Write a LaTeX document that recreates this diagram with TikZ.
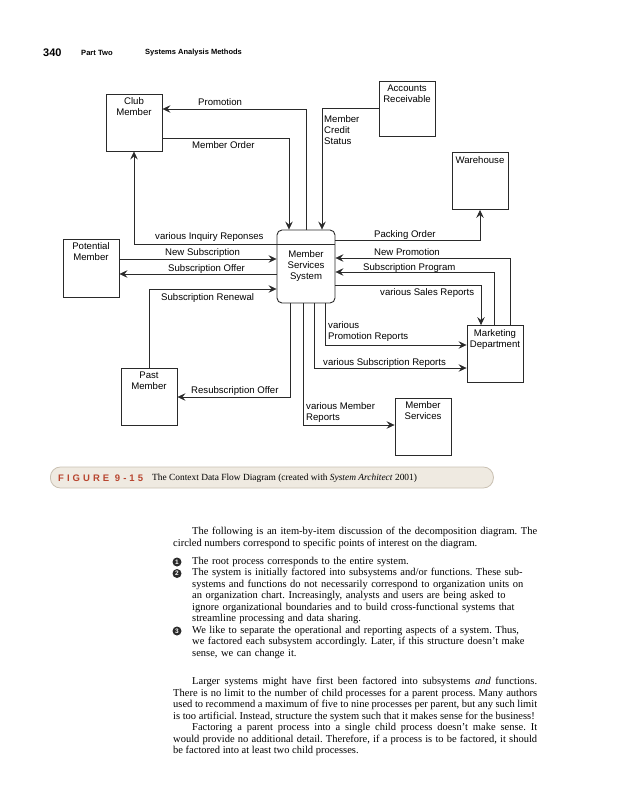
\documentclass[tikz,border=0pt]{standalone}
\usepackage{fontspec}
\setmainfont{Liberation Serif}
\newfontfamily\diagfont{Liberation Sans}
\usetikzlibrary{arrows.meta}
\definecolor{Ink}{HTML}{2A2A2A}
\definecolor{CapFill}{HTML}{EFEAE1}
\definecolor{CapRule}{HTML}{C9C0B2}
\definecolor{CapRed}{HTML}{B8452F}
\frenchspacing
\begin{document}
\begin{tikzpicture}[
  x=1pt,y=-1pt,>={Stealth[length=8pt,width=7.5pt,inset=3pt]},
  every node/.style={font=\diagfont\fontsize{9.6}{11}\selectfont},
  entity/.style={draw=Ink,line width=0.9pt,minimum width=56pt,minimum height=57pt,inner sep=0pt},
  process/.style={draw=Ink,line width=0.9pt,rounded corners=5pt,minimum width=58pt,minimum height=73pt,inner sep=0pt,align=center},
  flow/.style={->,draw=Ink,line width=0.6pt},
  flowlabel/.style={anchor=west,inner sep=0pt,align=left},
  inname/.style={anchor=north,align=center,inner sep=4pt},
  bodytext/.style={anchor=north west,inner sep=0pt,font=\rmfamily\fontsize{10.5}{11.5}\selectfont},
  marker/.style={circle,fill=Ink,text=white,inner sep=0pt,minimum size=9pt,font=\diagfont\bfseries\fontsize{6.5}{7}\selectfont}
]
  \useasboundingbox (0,0) rectangle (619,800);

  % running head
  \node[anchor=west,inner sep=0pt,font=\diagfont\bfseries\fontsize{11}{12}\selectfont] (pagenum) at (43,53) {340};
  \node[anchor=west,inner sep=0pt,font=\diagfont\bfseries\fontsize{7.6}{9}\selectfont] (partname) at (81,53) {Part Two};
  \node[anchor=west,inner sep=0pt,font=\diagfont\bfseries\fontsize{7.5}{9}\selectfont] (chapname) at (145,53) {Systems Analysis Methods};

  % external entities and the process
  \node[entity,label={[inname]north:{Club\\Member}}] (club) at (134,122.5) {};
  \node[entity,minimum height=55pt,label={[inname]north:{Accounts\\Receivable}}] (acct) at (407,108.5) {};
  \node[entity,label={[inname]north:{Warehouse}}] (ware) at (480,181) {};
  \node[entity,minimum height=58pt,label={[inname]north:{Potential\\Member}}] (pot) at (91,268) {};
  \node[process] (mss) at (306,266.5) {Member\\Services\\System};
  \draw[Ink,line width=0.6pt] ([yshift=-15pt]mss.north west) -- ([yshift=-15pt]mss.north east);
  \node[entity,label={[inname]north:{Past\\Member}}] (past) at (149,397) {};
  \node[entity,label={[inname]north:{Marketing\\Department}}] (mkt) at (495,354) {};
  \node[entity,label={[inname]north:{Member\\Services}}] (msv) at (423,426.5) {};

  % data flows
  \draw[flow] (mss.north) |- ([yshift=13.5pt]club.east);
  \draw[flow] ([yshift=-15.5pt]club.east) -| ([xshift=-17pt]mss.north);
  \draw[flow] (acct.west) -| ([xshift=16pt]mss.north);
  \draw[flow] ([yshift=22.5pt]mss.west) -| (club.south);
  \draw[flow] ([yshift=9pt]pot.east) -- ([yshift=9pt]pot.east -| mss.west);
  \draw[flow] ([yshift=-6pt]pot.east -| mss.west) -- ([yshift=-6pt]pot.east);
  \draw[flow] (past.north) |- ([yshift=-22.5pt]mss.west);
  \draw[flow] ([xshift=-16pt]mss.south) |- (past.east);
  \draw[flow] ([xshift=-3pt]mss.south) |- ([yshift=1.5pt]msv.west);
  \draw[flow] ([xshift=8pt]mss.south) |- ([yshift=-14pt]mkt.west);
  \draw[flow] ([xshift=19pt]mss.south) |- ([yshift=9pt]mkt.west);
  \draw[flow] ([yshift=-18.5pt]mss.east) -| ([xshift=-14pt]mkt.north);
  \draw[flow] ([xshift=-1pt]mkt.north) |- ([yshift=-5.5pt]mss.east);
  \draw[flow] ([xshift=15pt]mkt.north) |- ([yshift=8.5pt]mss.east);
  \draw[flow] ([yshift=26.5pt]mss.east) -| (ware.south);

  % flow labels
  \node[flowlabel] (promolbl) at (198,102) {Promotion};
  \node[flowlabel] (orderlbl) at (192,145) {Member Order};
  \node[flowlabel] (creditlbl) at (324,130) {Member\\Credit\\Status};
  \node[flowlabel] (inquirylbl) at (155,237) {various Inquiry Reponses};
  \node[flowlabel] (newsublbl) at (165,253) {New Subscription};
  \node[flowlabel] (offerlbl) at (168,269) {Subscription Offer};
  \node[flowlabel] (renewlbl) at (161,298) {Subscription Renewal};
  \node[flowlabel] (resublbl) at (191,391) {Resubscription Offer};
  \node[flowlabel] (packlbl) at (374,235) {Packing Order};
  \node[flowlabel] (newpromolbl) at (374,252) {New Promotion};
  \node[flowlabel] (programlbl) at (363,268) {Subscription Program};
  \node[flowlabel] (saleslbl) at (380,293) {various Sales Reports};
  \node[flowlabel] (promorptlbl) at (328,332) {various\\Promotion Reports};
  \node[flowlabel] (subrptlbl) at (323,363) {various Subscription Reports};
  \node[flowlabel] (memrptlbl) at (306,412.5) {various Member\\Reports};

  % figure caption
  \node[draw=CapRule,fill=CapFill,line width=0.8pt,rounded corners=10pt,minimum width=443pt,minimum height=21pt,anchor=west] (capband) at (50,477.5) {};
  \node[anchor=west,inner sep=0pt,text=CapRed,font=\diagfont\bfseries\fontsize{9.5}{11}\selectfont\addfontfeature{LetterSpace=32}] (capnum) at (58,478) {FIGURE 9-15};
  \node[anchor=west,inner sep=0pt,font=\rmfamily\fontsize{9.4}{11}\selectfont] (captext) at (152,478) {The Context Data Flow Diagram (created with \textit{System Architect} 2001)};

  % body text
  \node[bodytext,text width=364pt,align=justify] (introtext) at (173,527)
    {\hspace*{19pt}The following is an item-by-item discussion of the decomposition diagram. The\linebreak
     circled numbers correspond to specific points of interest on the diagram.};
  \node[bodytext,text width=350pt,align=left] (itemtext) at (192,557)
    {The root process corresponds to the entire system.\\
     The system is initially factored into subsystems and/or functions. These sub-\\
     systems and functions do not necessarily correspond to organization units on\\
     an organization chart. Increasingly, analysts and users are being asked to\\
     ignore organizational boundaries and to build cross-functional systems that\\
     streamline processing and data sharing.\\
     We like to separate the operational and reporting aspects of a system. Thus,\\
     we factored each subsystem accordingly. Later, if this structure doesn't make\\
     sense, we can change it.};
  \foreach \n/\y in {1/562,2/573.5,3/631}
    \node[marker] (mark\n) at (177,\y) {\n};
  \node[bodytext,text width=364pt,align=justify] (closetext) at (173,677)
    {\hspace*{19pt}Larger systems might have first been factored into subsystems \textit{and} functions.\linebreak
     There is no limit to the number of child processes for a parent process. Many authors\linebreak
     used to recommend a maximum of five to nine processes per parent, but any such limit\linebreak
     is too artificial. Instead, structure the system such that it makes sense for the business!\\
     \hspace*{19pt}Factoring a parent process into a single child process doesn't make sense. It\linebreak
     would provide no additional detail. Therefore, if a process is to be factored, it should\linebreak
     be factored into at least two child processes.};
\end{tikzpicture}
\end{document}
